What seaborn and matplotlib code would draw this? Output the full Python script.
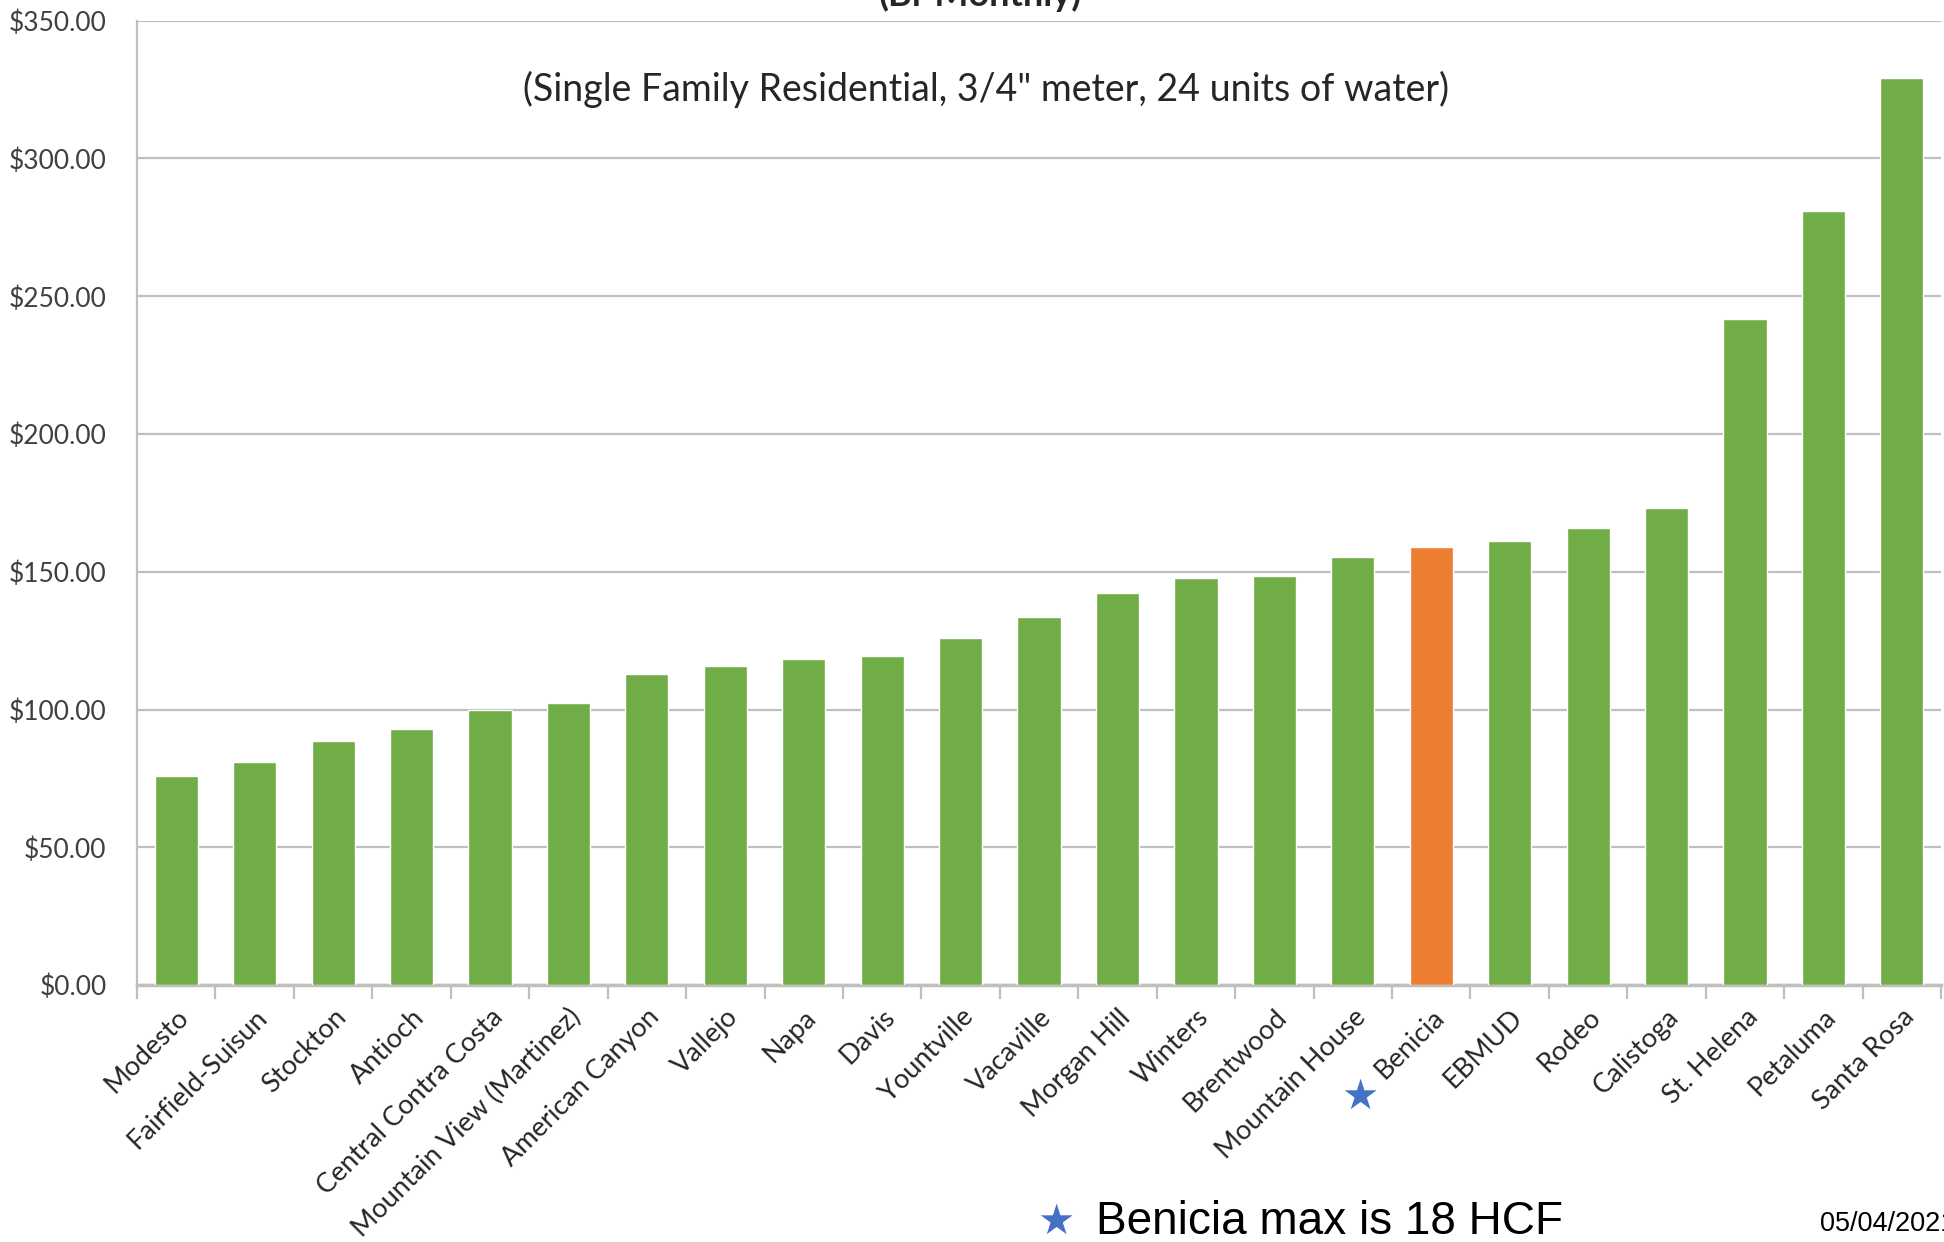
import matplotlib
matplotlib.use("Agg")
import matplotlib.pyplot as plt
import seaborn as sns
import pandas as pd
import numpy as np
from matplotlib.ticker import FuncFormatter, FixedLocator

cities = ["Modesto", "Fairfield-Suisun", "Stockton", "Antioch", "Central Contra Costa",
          "Mountain View (Martinez)", "American Canyon", "Vallejo", "Napa", "Davis",
          "Yountville", "Vacaville", "Morgan Hill", "Winters", "Brentwood",
          "Mountain House", "Benicia", "EBMUD", "Rodeo", "Calistoga", "St. Helena",
          "Petaluma", "Santa Rosa"]
bills = [76.0, 81.0, 88.5, 93.0, 99.7, 102.4, 112.8, 115.9, 118.2, 119.5,
         125.8, 133.4, 142.4, 147.8, 148.3, 155.5, 159.0, 161.3, 165.8, 173.0,
         241.7, 280.8, 329.3]
highlight = "Benicia"
yticks = [0, 50, 100, 150, 200, 250, 300, 350]

GREEN = "#70AD47"
ORANGE = "#ED7D31"
BLUE = "#4472C4"
GRID = "#BFBFBF"

sns.set_theme(style="white")
plt.rcParams['font.family'] = ['Lato', 'DejaVu Sans']

df = pd.DataFrame({"city": cities, "bill": bills,
                   "grp": ["hi" if c == highlight else "norm" for c in cities]})

fig = plt.figure(figsize=(19.44, 12.42), dpi=100)
ax = fig.add_axes([0.0705, 0.2069, 0.928, 0.7764])

sns.barplot(data=df, x="city", y="bill", hue="grp", palette={"norm": GREEN, "hi": ORANGE},
            width=0.55, dodge=False, legend=False, ax=ax, zorder=3, saturation=1)

ax.set_xlim(-0.5, len(cities) - 0.5)
ax.set_ylim(0, 350)
ax.set_yticks(yticks)
ax.yaxis.set_major_formatter(FuncFormatter(lambda v, p: f"${v:,.2f}"))
ax.grid(axis="y", color=GRID, linewidth=1.6, zorder=0)
ax.set_axisbelow(True)
ax.set_xlabel("")
ax.set_ylabel("")

for s in ["top", "right"]:
    ax.spines[s].set_visible(False)
ax.spines["left"].set_color(GRID)
ax.spines["left"].set_linewidth(1.6)
ax.spines["bottom"].set_color(GRID)
ax.spines["bottom"].set_linewidth(2.5)

ax.tick_params(axis="y", length=0, labelsize=19, labelcolor="#404040", pad=22)
ax.set_xticks(range(len(cities)))
ax.set_xticklabels(cities, rotation=45, ha="right", rotation_mode="anchor",
                   fontsize=19.5, color="#262626")
ax.tick_params(axis="x", which="major", length=0, pad=14)
ax.xaxis.set_minor_locator(FixedLocator(np.arange(-0.5, len(cities), 1.0)))
ax.tick_params(axis="x", which="minor", length=10, width=1.6, color=GRID, bottom=True)

# titles (top one partly cut off as in original)
fig.text(0.504, 0.995, "(Bi-Monthly)", ha="center", va="baseline",
         fontsize=26, fontweight="bold", color="#262626")
fig.text(0.507, 0.928, "(Single Family Residential, 3/4\" meter, 24 units of water)",
         ha="center", va="center", fontsize=27, color="#262626")

# star near Benicia label
fig.text(0.6995, 0.117, "★", ha="center", va="center", fontsize=30, color=BLUE,
         family=["DejaVu Sans"])
# footnote
fig.text(0.543, 0.0165, "★", ha="center", va="center", fontsize=30, color=BLUE,
         family=["DejaVu Sans"])
fig.text(0.564, 0.0165, "Benicia max is 18 HCF", ha="left", va="center",
         fontsize=33, color="black", family=["Liberation Sans", "DejaVu Sans"])
fig.text(0.936, 0.0145, "05/04/2021", ha="left", va="center",
         fontsize=19.5, color="black", family=["Liberation Sans", "DejaVu Sans"])

fig.savefig("out.png", dpi=100)
